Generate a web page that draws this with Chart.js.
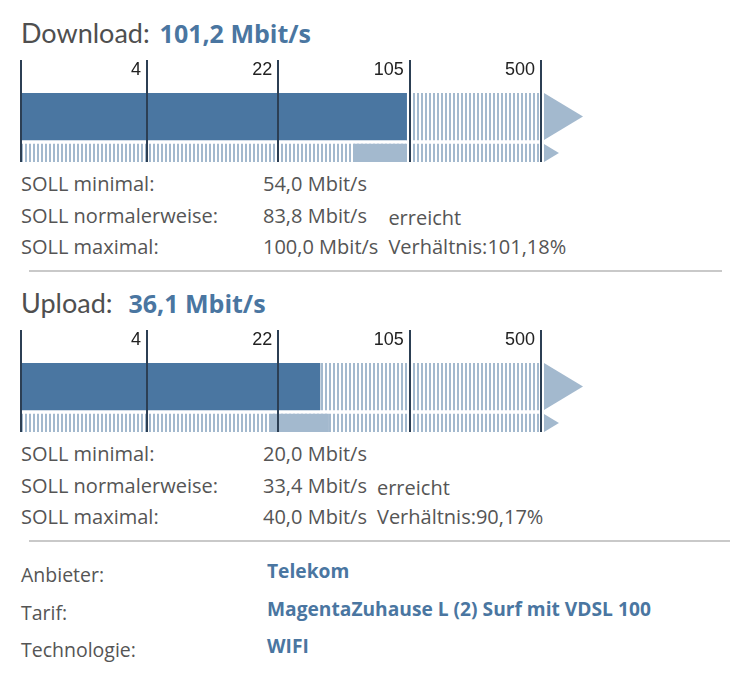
<!DOCTYPE html>
<html lang="de">
<head>
<meta charset="utf-8">
<title>Speedtest Ergebnis</title>
<script src="https://cdn.jsdelivr.net/npm/chart.js@4.4.1/dist/chart.umd.min.js"></script>
<style>
  body { margin: 0; background: #fff; font-family: "Open Sans", sans-serif; color: #555; }
  .seite { position: relative; width: 750px; height: 682px; }
  .block { position: relative; height: 270px; }
  .block h2 { margin: 0; height: 60px; padding-left: 21px; font-family: Lato, sans-serif; font-weight: normal; font-size: 27px; line-height: 66px; color: #4f4f4f; white-space: nowrap; }
  .block h2 .wert { margin-left: 3px; font-family: "Open Sans", sans-serif; font-size: 25px; font-weight: bold; color: #4a76a1; }
  .block h2 #ulWert { margin-left: 9px; }
  .block canvas { display: block; }
  table { border-collapse: collapse; }
  td { padding: 0; white-space: nowrap; }
  .soll { margin: 6px 0 0 21px; font-size: 20px; }
  .soll td { height: 31.5px; line-height: 31.5px; }
  .soll td:first-child { width: 242px; }
  .soll td.hinweis { padding-left: 10px; }
  .soll td.hinweis.tief { position: relative; top: 2px; }
  .trenner { position: absolute; left: 29px; top: 270px; height: 2px; background: #c9c9c9; }
  .info { position: absolute; left: 21px; top: 556px; font-size: 19.5px; }
  .info td { height: 37.5px; line-height: 37.5px; }
  .info td:first-child { width: 246px; }
  .info td.wert { font-size: 19.2px; font-weight: bold; color: #4a76a1; position: relative; top: -4px; }
</style>
</head>
<body>
<div class="seite">
  <div class="block">
    <h2>Download: <span class="wert" id="dlWert"></span></h2>
    <canvas id="dlChart" width="600" height="102"></canvas>
    <table class="soll" id="dlSoll"></table>
    <div class="trenner" style="width:693px"></div>
  </div>
  <div class="block">
    <h2>Upload: <span class="wert" id="ulWert"></span></h2>
    <canvas id="ulChart" width="600" height="102"></canvas>
    <table class="soll" id="ulSoll"></table>
    <div class="trenner" style="width:701px"></div>
  </div>
  <table class="info" id="info"></table>
</div>

<script>
// Skala: Stufen in Mbit/s, jeweils gleich breit (erste etwas schmaler)
const STUFEN = [0, 4, 22, 105, 500];
const STUFEN_LABELS = ['', '4', '22', '105', '500'];
const STUFEN_GEWICHT = [0.96, 1, 1, 1];

const DOWNLOAD_MESSUNG = 101.2;
const DOWNLOAD_SOLL = [54.0, 83.8, 100.0];   // minimal, normalerweise, maximal
const DOWNLOAD_VERHAELTNIS = '101,18%';

const UPLOAD_MESSUNG = 36.1;
const UPLOAD_SOLL = [20.0, 33.4, 40.0];
const UPLOAD_VERHAELTNIS = '90,17%';

const SOLL_LABELS = ['SOLL minimal:', 'SOLL normalerweise:', 'SOLL maximal:'];

const INFO_LABELS = ['Anbieter:', 'Tarif:', 'Technologie:'];
const INFO_WERTE = ['Telekom', 'MagentaZuhause L (2) Surf mit VDSL 100', 'WIFI'];

const DUNKEL = '#4a76a1';
const HELL = '#a3b9ce';
const LINIE = '#2c3f54';

const BALKEN_H = 47;
const SOLL_H = 18;
const ABSTAND = 4;

function mbit(v) {
    return v.toFixed(1).replace('.', ',') + ' Mbit/s';
}

// eigene Skala: stückweise logarithmisch zwischen den Stufen
class StufenSkala extends Chart.Scale {
    static id = 'stufen';
    static defaults = {};

    determineDataLimits() {
        this.min = STUFEN[0];
        this.max = STUFEN[STUFEN.length - 1];
    }
    buildTicks() {
        return STUFEN.map(v => ({ value: v }));
    }
    getLabelForValue(value) {
        return String(value);
    }
    _dezimal(value) {
        const summe = STUFEN_GEWICHT.reduce((a, b) => a + b, 0);
        let pos = 0;
        for (let i = 0; i < STUFEN.length - 1; i++) {
            const a = STUFEN[i], b = STUFEN[i + 1];
            if (value <= b || i === STUFEN.length - 2) {
                let t = a <= 0 ? (value - a) / (b - a) : Math.log(value / a) / Math.log(b / a);
                t = Math.max(0, Math.min(1, t));
                return (pos + t * STUFEN_GEWICHT[i]) / summe;
            }
            pos += STUFEN_GEWICHT[i];
        }
        return 1;
    }
    getPixelForValue(value) {
        return this.getPixelForDecimal(this._dezimal(value));
    }
    getValueForPixel(pixel) {
        const summe = STUFEN_GEWICHT.reduce((a, b) => a + b, 0);
        let d = this.getDecimalForPixel(pixel) * summe;
        for (let i = 0; i < STUFEN.length - 1; i++) {
            if (d <= STUFEN_GEWICHT[i] || i === STUFEN.length - 2) {
                const a = STUFEN[i], b = STUFEN[i + 1], t = d / STUFEN_GEWICHT[i];
                return a <= 0 ? a + t * (b - a) : a * Math.pow(b / a, t);
            }
            d -= STUFEN_GEWICHT[i];
        }
        return this.max;
    }
}
Chart.register(StufenSkala);

// Pfeile rechts an den Rasterbalken
const pfeile = {
    id: 'pfeile',
    afterDatasetsDraw(chart) {
        const ctx = chart.ctx;
        const x0 = chart.scales.x.right + 3;
        chart.data.datasets.forEach((ds, i) => {
            if (!ds.pfeil) return;
            const bar = chart.getDatasetMeta(i).data[0];
            const h = bar.height;
            ctx.save();
            ctx.fillStyle = HELL;
            ctx.beginPath();
            ctx.moveTo(x0, bar.y - h / 2);
            ctx.lineTo(x0 + h * 0.83, bar.y);
            ctx.lineTo(x0, bar.y + h / 2);
            ctx.closePath();
            ctx.fill();
            ctx.restore();
        });
    }
};

function raster(ctx) {
    const c = document.createElement('canvas');
    c.width = 4;
    c.height = 4;
    const g = c.getContext('2d');
    g.fillStyle = HELL;
    g.fillRect(1, 0, 2, 4);
    return ctx.createPattern(c, 'repeat');
}

function zeichneTacho(canvasId, messung, soll) {
    const canvas = document.getElementById(canvasId);
    const ctx = canvas.getContext('2d');
    const muster = raster(ctx);
    const ende = STUFEN[STUFEN.length - 1];

    // Zeilenpositionen: Zeile 0 = Messung, Zeile 1 = SOLL-Bereich
    const einheit = BALKEN_H / 2 + ABSTAND + SOLL_H / 2;
    const yMin = -(BALKEN_H / 2) / einheit;
    const yMax = 1 + (SOLL_H / 2) / einheit;

    new Chart(ctx, {
        type: 'bar',
        data: {
            datasets: [
                { label: 'Messung', data: [{ x: [STUFEN[0], messung], y: 0 }], backgroundColor: DUNKEL, barThickness: BALKEN_H, order: 0 },
                { label: 'SOLL', data: [{ x: [soll[0], soll[2]], y: 1 }], backgroundColor: HELL, barThickness: SOLL_H, order: 1 },
                { label: 'Rest', data: [{ x: [messung, ende], y: 0 }], backgroundColor: muster, barThickness: BALKEN_H, order: 2, pfeil: true },
                { label: 'Skala', data: [{ x: [STUFEN[0], ende], y: 1 }], backgroundColor: muster, barThickness: SOLL_H, order: 3, pfeil: true }
            ]
        },
        options: {
            indexAxis: 'y',
            responsive: false,
            animation: false,
            layout: { padding: { left: 21, right: 59, top: 0, bottom: 0 } },
            plugins: {
                legend: { display: false },
                tooltip: { enabled: false }
            },
            scales: {
                x: {
                    type: 'stufen',
                    position: 'top',
                    stacked: false,
                    afterFit: scale => { scale.height = 33; },
                    border: { display: false },
                    grid: {
                        z: 1,
                        color: LINIE,
                        lineWidth: 2,
                        drawTicks: true,
                        tickLength: 33
                    },
                    ticks: {
                        z: 1,
                        autoSkip: false,
                        maxRotation: 0,
                        align: 'end',
                        labelOffset: -6,
                        padding: -21,
                        color: '#222',
                        font: { family: '"Liberation Sans", Arial, sans-serif', size: 18 },
                        callback: (value, index) => STUFEN_LABELS[index]
                    }
                },
                y: {
                    type: 'linear',
                    display: false,
                    stacked: true,
                    reverse: true,
                    offset: false,
                    bounds: 'data',
                    grace: 0,
                    min: yMin,
                    max: yMax,
                    grid: { offset: false }
                }
            }
        },
        plugins: [pfeile]
    });
}

function sollTabelle(id, soll, verhaeltnis) {
    const hinweise = ['', 'erreicht', 'Verhältnis:' + verhaeltnis];
    document.getElementById(id).innerHTML = SOLL_LABELS.map((l, i) =>
        `<tr><td>${l}</td><td>${mbit(soll[i])}</td><td class="hinweis${i === 1 ? ' tief' : ''}">${hinweise[i]}</td></tr>`
    ).join('');
}

document.getElementById('dlWert').textContent = mbit(DOWNLOAD_MESSUNG);
document.getElementById('ulWert').textContent = mbit(UPLOAD_MESSUNG);
sollTabelle('dlSoll', DOWNLOAD_SOLL, DOWNLOAD_VERHAELTNIS);
sollTabelle('ulSoll', UPLOAD_SOLL, UPLOAD_VERHAELTNIS);
document.getElementById('info').innerHTML = INFO_LABELS.map((l, i) =>
    `<tr><td>${l}</td><td class="wert">${INFO_WERTE[i]}</td></tr>`
).join('');

zeichneTacho('dlChart', DOWNLOAD_MESSUNG, DOWNLOAD_SOLL);
zeichneTacho('ulChart', UPLOAD_MESSUNG, UPLOAD_SOLL);
</script>
</body>
</html>
